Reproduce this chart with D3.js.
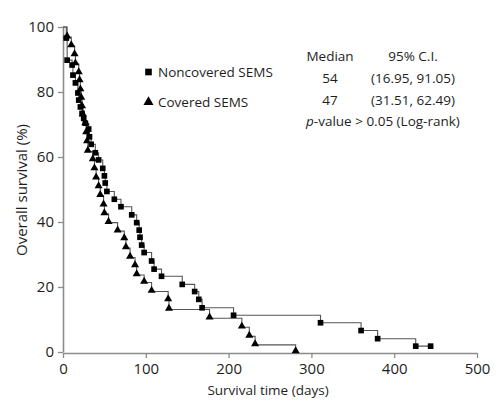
<!DOCTYPE html>
<html><head><meta charset="utf-8">
<script src="https://cdn.jsdelivr.net/npm/d3@7"></script>
<style>
body{margin:0;background:#fff}
svg{display:block}
text{font-family:"Open Sans",sans-serif;fill:#1e1e1e}
</style>
</head><body><svg id="c" width="504" height="409"></svg>
<script>
// ---- data ----
const noncoveredTimes = [4,5,11,12,15,18,19,21,23,25,27,31,32,34,39,43,48,50,51,53,62,70,83,89,92,93,95,98,107,110,119,144,159,164,168,206,311,360,380,426];
const noncoveredSurvival = [96.6,89.8,88.3,85.2,82.8,79.7,77.5,75.4,73.4,71.9,70.4,68.6,66.2,63.9,61.3,59.1,56.5,54.2,52.0,49.4,47.0,44.7,42.2,39.8,37.5,35.3,32.9,30.6,28.0,25.5,23.3,20.8,18.6,16.2,13.6,11.3,9.0,6.6,4.1,1.8];
const noncoveredLastFollowUp = 444;
const coveredTimes = [5,10,14,15,19,20,21,22,23,24,27,28,29,30,36,38,40,43,45,49,50,55,66,74,76,81,87,89,98,107,127,128,177,216,225,232,281];
const coveredSurvival = [96.9,94.2,91.4,88.6,85.9,83.4,80.6,78.0,75.4,72.9,70.2,67.4,64.6,61.7,59.1,56.3,53.5,50.8,48.1,45.2,42.5,39.8,37.2,34.8,32.0,29.1,26.5,23.7,21.4,18.6,16.0,13.1,10.4,7.6,4.8,2.2,0];
const xTicks = [0,100,200,300,400,500];
const yTicks = [0,20,40,60,80,100];
const legendLabels = ["Noncovered SEMS","Covered SEMS"];
const statsHeader = ["Median","95% C.I."];
const medians = ["54","47"];
const intervals = ["(16.95, 91.05)","(31.51, 62.49)"];
const xTitle = "Survival time (days)";
const yTitle = "Overall survival (%)";

// ---- scales ----
const svg = d3.select("#c");
const x = d3.scaleLinear().domain([0,500]).range([63,477]);
const y = d3.scaleLinear().domain([0,100]).range([352,27]);
const axisColor = "#8c8c8c";

// axes
const gx = svg.append("g").attr("transform",`translate(0,${y(0)+1})`)
  .call(d3.axisBottom(x).tickValues(xTicks).tickSize(5).tickSizeOuter(0).tickPadding(5));
const gy = svg.append("g").attr("transform",`translate(${x(0)},0)`)
  .call(d3.axisLeft(y).tickValues(yTicks).tickSize(5).tickSizeOuter(0).tickPadding(4));
[gx,gy].forEach(g=>{
  g.select(".domain").attr("stroke",axisColor).attr("stroke-width",1.6);
  g.selectAll(".tick line").attr("stroke",axisColor).attr("stroke-width",1.3);
  g.selectAll(".tick text").attr("font-size",15).attr("font-family","Open Sans, sans-serif").attr("fill","#1e1e1e");
});

// titles
svg.append("text").attr("x",268).attr("y",395).attr("text-anchor","middle").attr("font-size",13.5).text(xTitle);
svg.append("text").attr("transform","translate(27,190) rotate(-90)").attr("text-anchor","middle").attr("font-size",15).text(yTitle);

// ---- curves ----
const line = d3.line().x(d=>x(d[0])).y(d=>y(d[1])).curve(d3.curveStepAfter);
function series(times, surv, endT){
  const pts = [[0,100]];
  times.forEach((t,i)=>pts.push([t,surv[i]]));
  if(endT!==undefined) pts.push([endT, surv[surv.length-1]]);
  return pts;
}
const nonPts = series(noncoveredTimes, noncoveredSurvival, noncoveredLastFollowUp);
const covPts = series(coveredTimes, coveredSurvival);

svg.append("path").attr("d",line(covPts)).attr("fill","none").attr("stroke","#555").attr("stroke-width",1.1);
svg.append("path").attr("d",line(nonPts)).attr("fill","none").attr("stroke","#555").attr("stroke-width",1.1);

const sq = d3.symbol(d3.symbolSquare, 32);
const tri = d3.symbol(d3.symbolTriangle, 28);
svg.append("g").selectAll("path").data(nonPts.slice(1)).join("path")
  .attr("d",sq).attr("transform",d=>`translate(${x(d[0])},${y(d[1])})`).attr("fill","#000");
svg.append("g").selectAll("path").data(covPts.slice(1)).join("path")
  .attr("d",tri).attr("transform",d=>`translate(${x(d[0])},${y(d[1])-1})`).attr("fill","#000");

// ---- legend ----
const legSyms = [d3.symbol(d3.symbolSquare, 44), d3.symbol(d3.symbolTriangle, 44)];
legendLabels.forEach((lab,i)=>{
  const ly = 72 + i*30;
  svg.append("path").attr("d",legSyms[i]).attr("transform",`translate(148.5,${ly})`).attr("fill","#000");
  svg.append("text").attr("x",158).attr("y",ly+5).attr("font-size",13.5).text(lab);
});

// ---- stats block ----
const colA = 330, colB = 413;
svg.append("text").attr("x",colA).attr("y",61).attr("text-anchor","middle").attr("font-size",13.5).text(statsHeader[0]);
svg.append("text").attr("x",colB).attr("y",61).attr("text-anchor","middle").attr("font-size",13.5).text(statsHeader[1]);
medians.forEach((m,i)=>{
  const by = 83 + i*21.5;
  svg.append("text").attr("x",colA).attr("y",by).attr("text-anchor","middle").attr("font-size",13.5).text(m);
  svg.append("text").attr("x",colB).attr("y",by).attr("text-anchor","middle").attr("font-size",13.5).text(intervals[i]);
});
const pv = svg.append("text").attr("x",306).attr("y",126).attr("font-size",13.5);
pv.append("tspan").attr("font-style","italic").text("p");
pv.append("tspan").text("-value > 0.05 (Log-rank)");
</script>
</body></html>
